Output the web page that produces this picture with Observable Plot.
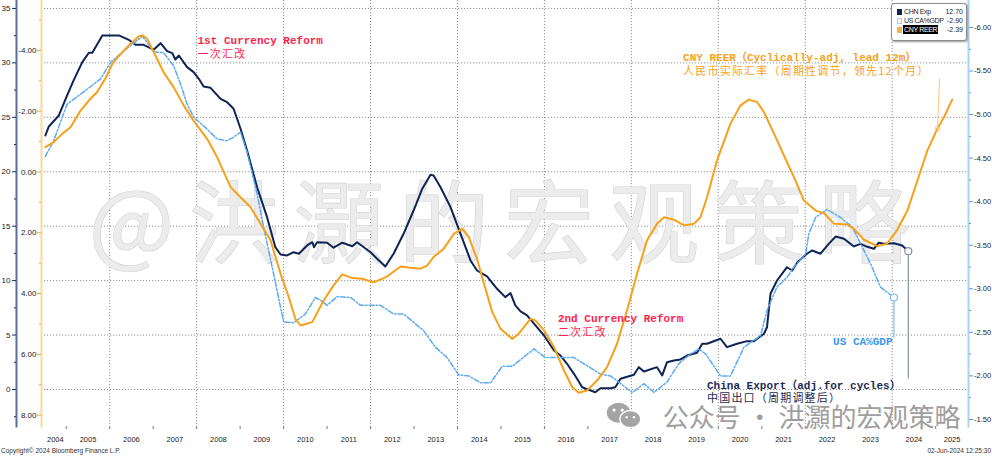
<!DOCTYPE html>
<html><head><meta charset="utf-8">
<script src="https://cdn.jsdelivr.net/npm/d3@7"></script>
<script src="https://cdn.jsdelivr.net/npm/@observablehq/plot@0.6"></script>
<style>
html,body{margin:0;padding:0;background:#fff;}
#wrap{position:relative;width:992px;height:458px;overflow:hidden;font-family:"Liberation Sans",Arial,sans-serif;}
#chart svg{display:block;}
#footer{position:absolute;left:0;top:444px;width:992px;height:14px;line-height:14px;font-size:6.5px;color:#333;}
#footer .l{position:absolute;left:1px;} #footer .r{position:absolute;right:1px;}
#legend{position:absolute;left:891px;top:3px;width:74px;height:33px;border:1px solid #8c8c8c;border-radius:3px;box-shadow:1px 1px 2px #9a9a9a;background:#fff;padding-top:3px;box-sizing:content-box;font-size:7px;color:#222;}
#legend .row{position:relative;height:9px;line-height:9px;}
#legend .sw{position:absolute;left:5px;top:2px;width:5px;height:6px;box-sizing:border-box;}
#legend .nm{position:absolute;left:11px;padding:0 1px;letter-spacing:-0.35px;}
#legend .val{position:absolute;right:3px;}
#legend .hl{background:#000;color:#fff;}
#wechat{position:absolute;left:604px;top:401px;}
</style></head>
<body>
<div id="wrap">
  <div id="chart"></div>
  <svg id="wechat" width="40" height="29" viewBox="0 0 42 32">
    <ellipse cx="15" cy="13" rx="13" ry="11" fill="#a4a4a4"/>
    <ellipse cx="28" cy="20" rx="11.5" ry="9.5" fill="#a4a4a4" stroke="#fff" stroke-width="1.5"/>
    <circle cx="10" cy="10" r="1.8" fill="#fff"/><circle cx="19" cy="10" r="1.8" fill="#fff"/>
    <circle cx="24" cy="18" r="1.4" fill="#fff"/><circle cx="32" cy="18" r="1.4" fill="#fff"/>
  </svg>
  <div id="legend"></div>
  <div id="footer"><span class="l">Copyright© 2024 Bloomberg Finance L.P.</span><span class="r">02-Jun-2024 12:25:30</span></div>
</div>
<script>
// ---------- data (decimal year, value) ----------
const chnExp = [
[2004.52,23.33],[2004.60,24.16],[2004.83,25.17],[2005.02,27.01],[2005.17,28.39],[2005.37,30.07],[2005.52,30.93],[2005.60,30.93],[2005.83,32.52],[2006.21,32.52],[2006.44,32.12],[2006.59,31.66],[2006.78,31.66],[2007.01,31.21],[2007.17,31.81],[2007.32,31.08],[2007.44,30.89],[2007.51,30.31],[2007.59,30.68],[2007.78,29.61],[2007.93,29.15],[2008.05,28.54],[2008.16,27.83],[2008.32,27.71],[2008.55,26.70],[2008.70,26.39],[2008.85,25.79],[2009.01,23.95],[2009.16,21.95],[2009.39,18.58],[2009.62,15.83],[2009.81,13.07],[2009.93,12.40],[2010.08,12.31],[2010.23,12.61],[2010.35,12.47],[2010.54,13.23],[2010.66,13.53],[2010.70,13.07],[2010.77,13.53],[2011.00,13.48],[2011.15,13.02],[2011.35,13.48],[2011.58,13.16],[2011.69,13.53],[2012.00,12.61],[2012.15,12.01],[2012.34,11.30],[2012.53,12.47],[2012.76,14.30],[2012.99,16.44],[2013.19,18.44],[2013.38,19.72],[2013.45,19.66],[2013.61,18.58],[2013.84,16.75],[2014.07,14.30],[2014.30,11.85],[2014.45,10.93],[2014.68,10.38],[2014.91,9.25],[2015.10,8.48],[2015.22,8.85],[2015.33,7.72],[2015.45,7.17],[2015.60,6.80],[2015.76,6.04],[2015.99,4.96],[2016.22,3.58],[2016.37,3.12],[2016.52,2.36],[2016.68,1.44],[2016.87,0.21],[2017.02,-0.03],[2017.17,-0.25],[2017.29,0.12],[2017.52,0.12],[2017.63,0.21],[2017.75,0.98],[2018.06,1.35],[2018.17,2.05],[2018.29,1.65],[2018.59,2.05],[2018.71,1.29],[2018.82,2.51],[2018.98,2.66],[2019.13,2.76],[2019.28,3.12],[2019.51,3.37],[2019.63,4.20],[2019.74,4.20],[2020.05,4.66],[2020.20,3.89],[2020.43,4.20],[2020.66,4.44],[2020.82,4.44],[2021.05,5.12],[2021.12,5.72],[2021.20,8.79],[2021.35,10.01],[2021.58,11.23],[2021.70,10.93],[2021.82,11.69],[2022.04,12.47],[2022.16,12.77],[2022.35,12.47],[2022.54,13.38],[2022.70,14.05],[2022.89,13.84],[2023.12,13.14],[2023.27,13.38],[2023.39,13.16],[2023.58,12.92],[2023.69,13.48],[2023.81,13.38],[2024.04,13.44],[2024.23,13.23],[2024.37,12.70]
];
const usCaGdp = [
[2004.52,-4.52],[2004.71,-4.70],[2005.02,-5.12],[2005.40,-5.26],[2005.79,-5.41],[2006.02,-5.60],[2006.25,-5.70],[2006.48,-5.79],[2006.75,-5.90],[2006.86,-5.83],[2007.01,-5.72],[2007.24,-5.71],[2007.47,-5.56],[2007.63,-5.35],[2007.78,-5.12],[2007.93,-4.97],[2008.16,-4.87],[2008.47,-4.72],[2008.70,-4.70],[2008.85,-4.74],[2009.01,-4.80],[2009.16,-4.57],[2009.39,-4.09],[2009.54,-3.71],[2009.77,-3.17],[2010.00,-2.62],[2010.23,-2.61],[2010.50,-2.71],[2010.73,-2.90],[2010.85,-2.87],[2011.00,-2.81],[2011.23,-2.91],[2011.54,-2.90],[2011.77,-2.81],[2012.23,-2.81],[2012.53,-2.71],[2012.76,-2.71],[2013.22,-2.52],[2013.49,-2.33],[2013.76,-2.21],[2014.03,-2.01],[2014.26,-2.00],[2014.53,-1.92],[2014.76,-1.92],[2015.03,-2.11],[2015.26,-2.11],[2015.76,-2.31],[2016.02,-2.21],[2016.68,-2.21],[2017.29,-2.02],[2017.52,-2.00],[2018.02,-1.81],[2018.29,-1.91],[2018.52,-1.81],[2018.82,-1.93],[2019.09,-2.14],[2019.36,-2.25],[2019.55,-2.31],[2019.71,-2.25],[2020.05,-2.00],[2020.28,-2.00],[2020.59,-2.33],[2020.97,-2.46],[2021.12,-2.75],[2021.35,-3.02],[2021.58,-3.13],[2021.74,-3.25],[2022.01,-3.40],[2022.08,-3.63],[2022.24,-3.82],[2022.50,-3.91],[2022.81,-3.82],[2023.08,-3.71],[2023.27,-3.52],[2023.50,-3.29],[2023.73,-3.02],[2024.04,-2.90]
];
const cnyReer = [
[2004.52,-0.82],[2004.71,-0.98],[2004.91,-1.26],[2005.10,-1.47],[2005.33,-2.02],[2005.52,-2.35],[2005.71,-2.63],[2005.90,-3.07],[2006.06,-3.56],[2006.29,-3.94],[2006.48,-4.22],[2006.67,-4.46],[2006.76,-4.49],[2006.86,-4.38],[2007.05,-3.83],[2007.24,-3.28],[2007.47,-2.79],[2007.70,-2.19],[2007.93,-1.69],[2008.24,-1.09],[2008.47,-0.49],[2008.78,0.50],[2009.01,0.83],[2009.24,1.16],[2009.47,1.70],[2009.70,2.25],[2009.93,3.35],[2010.12,4.12],[2010.27,4.83],[2010.39,5.05],[2010.66,4.94],[2010.92,4.23],[2011.15,3.73],[2011.35,3.37],[2011.58,3.49],[2011.81,3.51],[2012.07,3.63],[2012.38,3.44],[2012.69,3.11],[2012.92,3.15],[2013.15,3.18],[2013.30,3.08],[2013.45,2.80],[2013.68,2.53],[2013.92,2.03],[2014.11,1.87],[2014.26,2.14],[2014.45,2.86],[2014.61,3.68],[2014.80,4.61],[2014.99,5.16],[2015.26,5.49],[2015.41,5.32],[2015.68,4.83],[2015.79,4.88],[2015.99,5.21],[2016.22,5.76],[2016.45,6.53],[2016.64,7.08],[2016.79,7.26],[2016.98,7.19],[2017.21,6.86],[2017.44,6.42],[2017.67,5.65],[2017.90,4.56],[2018.13,3.35],[2018.36,2.25],[2018.59,1.70],[2018.75,1.49],[2018.98,1.57],[2019.21,1.76],[2019.44,1.70],[2019.59,1.49],[2019.74,0.83],[2019.97,-0.38],[2020.28,-1.59],[2020.51,-2.19],[2020.70,-2.38],[2020.89,-2.30],[2021.05,-1.97],[2021.28,-1.26],[2021.58,-0.32],[2021.74,0.17],[2021.97,0.94],[2022.24,1.27],[2022.43,1.36],[2022.66,1.70],[2022.97,1.73],[2023.12,1.87],[2023.35,2.23],[2023.66,2.44],[2023.88,2.36],[2024.11,1.92],[2024.35,1.27],[2024.58,0.28],[2024.81,-0.71],[2025.04,-1.42],[2025.19,-1.80],[2025.38,-2.38]
];

// ---------- tick labels ----------
const years = d3.range(2004, 2026);              // 2004 ... 2025
const gridYears = d3.range(2006, 2025, 2);
const expTicks = d3.range(0, 36, 5);              // left outer axis (CHN Exp)
const expMinor = d3.range(-2.5, 35, 5);
const reerTicks = d3.range(-4, 9, 2);             // left inner axis (CNY REER, inverted)
const reerMinor = d3.range(-5, 9, 2);
const caTicks = d3.range(-6, -1.49, 0.5);         // right axis (US CA%GDP, inverted)
const caMinor = d3.range(-5.75, -1.5, 0.5);

// ---------- legend ----------
const legendNames = ["CHN Exp", "US CA%GDP", "CNY REER"];
const legendValues = ["12.70", "-2.90", "-2.39"];

// ---------- annotation text ----------
const annotations = [
  {t: 2008.02, u: 31.46, en: "1st Currency Reform", zh: "一次汇改", key: "reform"},
  {t: 2016.31, u: 5.91, en: "2nd Currency Reform", zh: "二次汇改", key: "reform"},
  {t: 2019.19, u: 29.86, en: "CNY REER（Cyclically-adj, lead 12m）", zh: "人民币实际汇率（周期性调节，领先12个月）", key: "reer"},
  {t: 2022.64, u: 3.83, en: "US CA%GDP", zh: "", key: "ca"},
  {t: 2019.74, u: -0.22, en: "China Export（adj.for cycles）", zh: "中国出口（周期调整后）", key: "exp"}
];
const watermark = "@洪灝的宏观策略";
const footerMark = "公众号 · 洪灝的宏观策略";

// ---------- secondary-axis transforms into the primary (CHN Exp) scale ----------
const reerToU = v => 19.98 - 2.7926 * v;
const uToReer = u => (19.98 - u) / 2.7926;
const caToU = v => -14.753 - 8.001 * v;
const uToCa = u => (-14.753 - u) / 8.001;
const fmt2 = v => { let r = Math.round(v * 100) / 100; if (Math.abs(r) < 1e-9) r = 0; return r.toFixed(2); };

const X0 = 2004.5, X1 = 2025.755;
const yearLabelPos = years.map(y => (Math.max(y, X0) + Math.min(y + 1, X1)) / 2);

const C = {exp: "#0f2354", ca: "#5aaaf2", reer: "#f7a11a", reform: "#ff1f4f", caText: "#3a98ee", expText: "#1d2c55"};
const annColor = d => d.key === "reform" ? C.reform : d.key === "reer" ? C.reer : d.key === "ca" ? C.caText : C.expText;
const last = a => a[a.length - 1];
const chnLast = last(chnExp), caLast = last(usCaGdp);
const reerCall = cnyReer[cnyReer.length - 3];

const monoFont = "'Liberation Mono', 'DejaVu Sans Mono', 'Noto Sans CJK SC', monospace";
const cjkFont = "'Noto Sans CJK SC', sans-serif";
const axisFont = "'Liberation Sans', Arial, sans-serif";

const plot = Plot.plot({
  width: 992, height: 444,
  marginTop: 0, marginBottom: 18, marginLeft: 44, marginRight: 24,
  style: {background: "#fff", overflow: "visible"},
  x: {type: "linear", domain: [X0, X1], axis: null, label: null},
  y: {domain: [-3.40, 35.73], axis: null, label: null},
  marks: [
    Plot.gridY(expTicks, {stroke: "#8f8f8f", strokeOpacity: 1, strokeDasharray: "1.2,1.8"}),
    Plot.gridX(gridYears, {stroke: "#8f8f8f", strokeOpacity: 1, strokeDasharray: "1.2,1.8"}),
    Plot.text([watermark], {frameAnchor: "middle", dy: 14, fontSize: 90, fill: "#ececec", stroke: "#d2d2d2", strokeWidth: 1.2, fontFamily: cjkFont}),
    Plot.text([footerMark], {frameAnchor: "bottom-right", dx: -8, dy: -8, lineAnchor: "middle", textAnchor: "end", fontSize: 26, fill: "#9e9e9e", fontFamily: cjkFont}),

    // outer left axis (CHN Exp)
    Plot.frame({anchor: "left", dx: -28, stroke: "#5d6d9c", strokeWidth: 2}),
    Plot.axisY(expTicks, {anchor: "left", dx: -28, tickSize: 4, tickPadding: 2, stroke: "#1b2a5a", fill: "#222", fontSize: 8, fontFamily: axisFont}),
    Plot.axisY(expMinor, {anchor: "left", dx: -28, tickSize: 2, stroke: "#1b2a5a", fill: "none"}),
    // inner left axis (CNY REER)
    Plot.frame({anchor: "left", dx: -3, stroke: "#ffd79c", strokeWidth: 2}),
    Plot.axisY(reerTicks.map(reerToU), {anchor: "left", dx: -3, tickSize: 4, tickPadding: 1, stroke: "#f5a623", fill: "#222", fontSize: 8, fontFamily: axisFont, tickFormat: u => fmt2(uToReer(u))}),
    Plot.axisY(reerMinor.map(reerToU), {anchor: "left", dx: -3, tickSize: 2, stroke: "#f5a623", fill: "none"}),
    // right axis (US CA%GDP)
    Plot.frame({anchor: "right", stroke: "#acd4fb", strokeWidth: 2}),
    Plot.axisY(caTicks.map(caToU), {anchor: "right", tickSize: 4, tickPadding: 1.5, stroke: "#4a9be6", fill: "#222", fontSize: 7.6, fontFamily: axisFont, tickFormat: u => fmt2(uToCa(u))}),
    Plot.axisY(caMinor.map(caToU), {anchor: "right", tickSize: 2, stroke: "#4a9be6", fill: "none"}),
    // x axis
    Plot.axisX(years.slice(1), {anchor: "bottom", tickSize: 3, stroke: "#777", fill: "none"}),
    Plot.axisX(yearLabelPos, {anchor: "bottom", tickSize: 0, tickPadding: 10, fill: "#222", fontSize: 7.5, fontFamily: axisFont, tickFormat: d => String(Math.floor(d))}),

    // series
    Plot.line(chnExp, {x: d => d[0], y: d => d[1], stroke: C.exp, strokeWidth: 2}),
    Plot.line(usCaGdp, {x: d => d[0], y: d => caToU(d[1]), stroke: C.ca, strokeWidth: 1.5, strokeDasharray: "5,2,1.5,2"}),
    Plot.line(cnyReer, {x: d => d[0], y: d => reerToU(d[1]), stroke: C.reer, strokeWidth: 2}),

    // callout leaders
    Plot.link([chnLast], {x1: d => d[0], y1: d => d[1], x2: d => d[0], y2: 1.01, stroke: "#8793a6", strokeWidth: 1.2}),
    Plot.link([caLast], {x1: d => d[0], y1: d => caToU(d[1]), x2: d => d[0], y2: 4.78, stroke: "#78bbf5", strokeWidth: 1.2}),
    Plot.link([reerCall], {x1: d => d[0], y1: d => reerToU(d[1]), x2: d => d[0] + 0.05, y2: 28.57, stroke: "#f9c77e", strokeWidth: 1}),
    Plot.dot([chnLast], {x: d => d[0], y: d => d[1], r: 3.5, fill: "#fff", stroke: "#8793a6", strokeWidth: 1.2}),
    Plot.dot([caLast], {x: d => d[0], y: d => caToU(d[1]), r: 3.5, fill: "#fff", stroke: "#78bbf5", strokeWidth: 1.2}),
    Plot.dot([reerCall], {x: d => d[0], y: d => reerToU(d[1]), r: 2.5, fill: "none", stroke: "#f9c77e", strokeWidth: 1}),

    // annotations (English line, then Chinese line)
    Plot.text(annotations, {x: "t", y: "u", text: "en", textAnchor: "start", lineAnchor: "middle",
      fontSize: 11, fontWeight: "bold", fontFamily: monoFont, fill: annColor, dy: -6.5}),
    Plot.text(annotations.filter(d => d.zh), {x: "t", y: "u", text: "zh", textAnchor: "start", lineAnchor: "middle",
      fontSize: 11, fontWeight: "normal", fontFamily: cjkFont, fill: annColor, dy: 7})
  ]
});
document.getElementById("chart").appendChild(plot);
plot.querySelectorAll("text").forEach(t => {
  if (t.textContent === watermark) t.setAttribute("letter-spacing", "15");
  if (annotations.some(a => a.zh && a.zh === t.textContent)) t.setAttribute("letter-spacing", "1.2");
});

// legend
const legColors = [{bg: C.exp, bd: C.exp}, {bg: "#fff", bd: "#9ccbf5"}, {bg: "#fbb040", bd: "#fbb040"}];
const leg = document.getElementById("legend");
legendNames.forEach((n, i) => {
  const row = document.createElement("div"); row.className = "row";
  const sw = document.createElement("span"); sw.className = "sw";
  sw.style.background = legColors[i].bg; sw.style.border = "1px solid " + legColors[i].bd;
  const nm = document.createElement("span"); nm.className = "nm" + (i === 2 ? " hl" : ""); nm.textContent = n;
  const val = document.createElement("span"); val.className = "val"; val.textContent = legendValues[i];
  row.append(sw, nm, val); leg.appendChild(row);
});
</script>
</body></html>
